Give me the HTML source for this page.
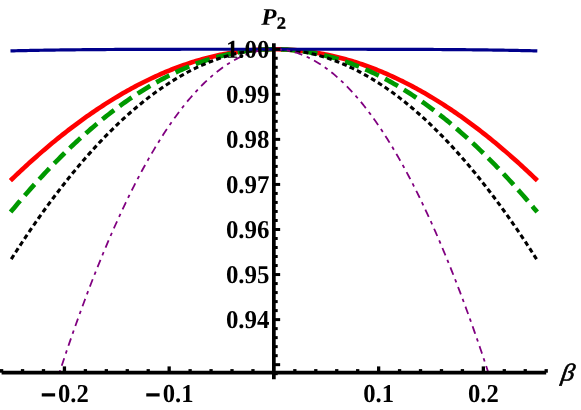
<!DOCTYPE html>
<html><head><meta charset="utf-8"><title>P2</title>
<style>html,body{margin:0;padding:0;background:#fff;}svg{display:block;}text{font-family:"Liberation Serif",serif;}</style></head><body>
<svg width="581" height="410" viewBox="0 0 581 410">
<rect width="581" height="410" fill="#fff"/>
<g fill="none" stroke-linejoin="round">
<path d="M10.41 180.58 L12.07 178.99 L14.10 177.06 L16.12 175.14 L18.14 173.23 L20.16 171.34 L22.18 169.45 L24.21 167.59 L26.23 165.73 L28.25 163.89 L30.27 162.06 L32.29 160.25 L34.31 158.45 L36.34 156.66 L38.36 154.88 L40.38 153.12 L42.40 151.38 L44.42 149.64 L46.45 147.92 L48.47 146.22 L50.49 144.52 L52.51 142.85 L54.53 141.18 L56.55 139.53 L58.58 137.89 L60.60 136.27 L62.62 134.66 L64.64 133.07 L66.66 131.49 L68.69 129.92 L70.71 128.37 L72.73 126.83 L74.75 125.31 L76.77 123.80 L78.79 122.30 L80.82 120.82 L82.84 119.36 L84.86 117.90 L86.88 116.47 L88.90 115.04 L90.93 113.63 L92.95 112.24 L94.97 110.86 L96.99 109.50 L99.01 108.15 L101.03 106.81 L103.06 105.49 L105.08 104.18 L107.10 102.89 L109.12 101.62 L111.14 100.35 L113.17 99.11 L115.19 97.87 L117.21 96.66 L119.23 95.45 L121.25 94.27 L123.27 93.09 L125.30 91.94 L127.32 90.79 L129.34 89.67 L131.36 88.55 L133.38 87.46 L135.41 86.37 L137.43 85.31 L139.45 84.26 L141.47 83.22 L143.49 82.20 L145.51 81.19 L147.54 80.20 L149.56 79.23 L151.58 78.26 L153.60 77.32 L155.62 76.39 L157.65 75.48 L159.67 74.58 L161.69 73.69 L163.71 72.82 L165.73 71.97 L167.75 71.13 L169.78 70.31 L171.80 69.51 L173.82 68.72 L175.84 67.94 L177.86 67.18 L179.89 66.44 L181.91 65.71 L183.93 65.00 L185.95 64.30 L187.97 63.62 L189.99 62.95 L192.02 62.30 L194.04 61.67 L196.06 61.05 L198.08 60.44 L200.10 59.86 L202.13 59.28 L204.15 58.73 L206.17 58.19 L208.19 57.66 L210.21 57.15 L212.23 56.66 L214.26 56.18 L216.28 55.72 L218.30 55.28 L220.32 54.85 L222.34 54.43 L224.37 54.03 L226.39 53.65 L228.41 53.29 L230.43 52.94 L232.45 52.60 L234.47 52.28 L236.50 51.98 L238.52 51.69 L240.54 51.42 L242.56 51.17 L244.58 50.93 L246.61 50.70 L248.63 50.50 L250.65 50.31 L252.67 50.13 L254.69 49.97 L256.71 49.83 L258.74 49.70 L260.76 49.59 L262.78 49.49 L264.80 49.41 L266.82 49.35 L268.85 49.30 L270.87 49.27 L272.89 49.25 L274.91 49.25 L276.93 49.27 L278.95 49.30 L280.98 49.35 L283.00 49.41 L285.02 49.49 L287.04 49.59 L289.06 49.70 L291.09 49.83 L293.11 49.97 L295.13 50.13 L297.15 50.31 L299.17 50.50 L301.19 50.70 L303.22 50.93 L305.24 51.17 L307.26 51.42 L309.28 51.69 L311.30 51.98 L313.33 52.28 L315.35 52.60 L317.37 52.94 L319.39 53.29 L321.41 53.65 L323.43 54.03 L325.46 54.43 L327.48 54.85 L329.50 55.28 L331.52 55.72 L333.54 56.18 L335.57 56.66 L337.59 57.15 L339.61 57.66 L341.63 58.19 L343.65 58.73 L345.67 59.28 L347.70 59.86 L349.72 60.44 L351.74 61.05 L353.76 61.67 L355.78 62.30 L357.81 62.95 L359.83 63.62 L361.85 64.30 L363.87 65.00 L365.89 65.71 L367.91 66.44 L369.94 67.18 L371.96 67.94 L373.98 68.72 L376.00 69.51 L378.02 70.31 L380.05 71.13 L382.07 71.97 L384.09 72.82 L386.11 73.69 L388.13 74.58 L390.15 75.48 L392.18 76.39 L394.20 77.32 L396.22 78.26 L398.24 79.23 L400.26 80.20 L402.29 81.19 L404.31 82.20 L406.33 83.22 L408.35 84.26 L410.37 85.31 L412.39 86.37 L414.42 87.46 L416.44 88.55 L418.46 89.67 L420.48 90.79 L422.50 91.94 L424.53 93.09 L426.55 94.27 L428.57 95.45 L430.59 96.66 L432.61 97.87 L434.63 99.11 L436.66 100.35 L438.68 101.62 L440.70 102.89 L442.72 104.18 L444.74 105.49 L446.77 106.81 L448.79 108.15 L450.81 109.50 L452.83 110.86 L454.85 112.24 L456.87 113.63 L458.90 115.04 L460.92 116.47 L462.94 117.90 L464.96 119.36 L466.98 120.82 L469.01 122.30 L471.03 123.80 L473.05 125.31 L475.07 126.83 L477.09 128.37 L479.11 129.92 L481.14 131.49 L483.16 133.07 L485.18 134.66 L487.20 136.27 L489.22 137.89 L491.25 139.53 L493.27 141.18 L495.29 142.85 L497.31 144.52 L499.33 146.22 L501.35 147.92 L503.38 149.64 L505.40 151.38 L507.42 153.12 L509.44 154.88 L511.46 156.66 L513.49 158.45 L515.51 160.25 L517.53 162.06 L519.55 163.89 L521.57 165.73 L523.59 167.59 L525.62 169.45 L527.64 171.34 L529.66 173.23 L531.68 175.14 L533.70 177.06 L535.72 178.99 L537.39 180.58" stroke="#ff0000" stroke-width="4.6"/>
<path d="M10.58 212.09 L12.07 210.31 L14.10 207.89 L16.12 205.49 L18.14 203.10 L20.16 200.73 L22.18 198.38 L24.21 196.05 L26.23 193.73 L28.25 191.43 L30.27 189.15 L32.29 186.89 L34.31 184.64 L36.34 182.41 L38.36 180.20 L40.38 178.00 L42.40 175.82 L44.42 173.66 L46.45 171.52 L48.47 169.39 L50.49 167.28 L52.51 165.19 L54.53 163.12 L56.55 161.07 L58.58 159.03 L60.60 157.01 L62.62 155.01 L64.64 153.03 L66.66 151.06 L68.69 149.11 L70.71 147.18 L72.73 145.27 L74.75 143.38 L76.77 141.50 L78.79 139.64 L80.82 137.80 L82.84 135.98 L84.86 134.18 L86.88 132.39 L88.90 130.63 L90.93 128.88 L92.95 127.15 L94.97 125.44 L96.99 123.74 L99.01 122.07 L101.03 120.41 L103.06 118.77 L105.08 117.15 L107.10 115.55 L109.12 113.97 L111.14 112.41 L113.17 110.86 L115.19 109.34 L117.21 107.83 L119.23 106.34 L121.25 104.87 L123.27 103.41 L125.30 101.98 L127.32 100.57 L129.34 99.17 L131.36 97.79 L133.38 96.44 L135.41 95.10 L137.43 93.78 L139.45 92.48 L141.47 91.19 L143.49 89.93 L145.51 88.69 L147.54 87.46 L149.56 86.25 L151.58 85.07 L153.60 83.90 L155.62 82.75 L157.65 81.62 L159.67 80.51 L161.69 79.42 L163.71 78.34 L165.73 77.29 L167.75 76.25 L169.78 75.24 L171.80 74.24 L173.82 73.27 L175.84 72.31 L177.86 71.37 L179.89 70.45 L181.91 69.55 L183.93 68.67 L185.95 67.81 L187.97 66.97 L189.99 66.15 L192.02 65.35 L194.04 64.56 L196.06 63.80 L198.08 63.05 L200.10 62.33 L202.13 61.62 L204.15 60.94 L206.17 60.27 L208.19 59.62 L210.21 59.00 L212.23 58.39 L214.26 57.80 L216.28 57.23 L218.30 56.68 L220.32 56.15 L222.34 55.64 L224.37 55.15 L226.39 54.68 L228.41 54.23 L230.43 53.79 L232.45 53.38 L234.47 52.99 L236.50 52.61 L238.52 52.26 L240.54 51.93 L242.56 51.61 L244.58 51.32 L246.61 51.04 L248.63 50.79 L250.65 50.55 L252.67 50.33 L254.69 50.14 L256.71 49.96 L258.74 49.80 L260.76 49.67 L262.78 49.55 L264.80 49.45 L266.82 49.37 L268.85 49.31 L270.87 49.27 L272.89 49.25 L274.91 49.25 L276.93 49.27 L278.95 49.31 L280.98 49.37 L283.00 49.45 L285.02 49.55 L287.04 49.67 L289.06 49.80 L291.09 49.96 L293.11 50.14 L295.13 50.33 L297.15 50.55 L299.17 50.79 L301.19 51.04 L303.22 51.32 L305.24 51.61 L307.26 51.93 L309.28 52.26 L311.30 52.61 L313.33 52.99 L315.35 53.38 L317.37 53.79 L319.39 54.23 L321.41 54.68 L323.43 55.15 L325.46 55.64 L327.48 56.15 L329.50 56.68 L331.52 57.23 L333.54 57.80 L335.57 58.39 L337.59 59.00 L339.61 59.62 L341.63 60.27 L343.65 60.94 L345.67 61.62 L347.70 62.33 L349.72 63.05 L351.74 63.80 L353.76 64.56 L355.78 65.35 L357.81 66.15 L359.83 66.97 L361.85 67.81 L363.87 68.67 L365.89 69.55 L367.91 70.45 L369.94 71.37 L371.96 72.31 L373.98 73.27 L376.00 74.24 L378.02 75.24 L380.05 76.25 L382.07 77.29 L384.09 78.34 L386.11 79.42 L388.13 80.51 L390.15 81.62 L392.18 82.75 L394.20 83.90 L396.22 85.07 L398.24 86.25 L400.26 87.46 L402.29 88.69 L404.31 89.93 L406.33 91.19 L408.35 92.48 L410.37 93.78 L412.39 95.10 L414.42 96.44 L416.44 97.79 L418.46 99.17 L420.48 100.57 L422.50 101.98 L424.53 103.41 L426.55 104.87 L428.57 106.34 L430.59 107.83 L432.61 109.34 L434.63 110.86 L436.66 112.41 L438.68 113.97 L440.70 115.55 L442.72 117.15 L444.74 118.77 L446.77 120.41 L448.79 122.07 L450.81 123.74 L452.83 125.44 L454.85 127.15 L456.87 128.88 L458.90 130.63 L460.92 132.39 L462.94 134.18 L464.96 135.98 L466.98 137.80 L469.01 139.64 L471.03 141.50 L473.05 143.38 L475.07 145.27 L477.09 147.18 L479.11 149.11 L481.14 151.06 L483.16 153.03 L485.18 155.01 L487.20 157.01 L489.22 159.03 L491.25 161.07 L493.27 163.12 L495.29 165.19 L497.31 167.28 L499.33 169.39 L501.35 171.52 L503.38 173.66 L505.40 175.82 L507.42 178.00 L509.44 180.20 L511.46 182.41 L513.49 184.64 L515.51 186.89 L517.53 189.15 L519.55 191.43 L521.57 193.73 L523.59 196.05 L525.62 198.38 L527.64 200.73 L529.66 203.10 L531.68 205.49 L533.70 207.89 L535.72 210.31 L537.22 212.09" stroke="#009900" stroke-width="4.65" stroke-dasharray="14.86 6.93"/>
<path d="M11.24 259.11 L12.07 257.81 L14.10 254.64 L16.12 251.51 L18.14 248.39 L20.16 245.30 L22.18 242.23 L24.21 239.18 L26.23 236.15 L28.25 233.15 L30.27 230.18 L32.29 227.22 L34.31 224.29 L36.34 221.39 L38.36 218.50 L40.38 215.64 L42.40 212.81 L44.42 209.99 L46.45 207.21 L48.47 204.44 L50.49 201.70 L52.51 198.98 L54.53 196.28 L56.55 193.61 L58.58 190.97 L60.60 188.34 L62.62 185.74 L64.64 183.17 L66.66 180.62 L68.69 178.09 L70.71 175.58 L72.73 173.10 L74.75 170.65 L76.77 168.21 L78.79 165.81 L80.82 163.42 L82.84 161.06 L84.86 158.73 L86.88 156.41 L88.90 154.13 L90.93 151.86 L92.95 149.62 L94.97 147.41 L96.99 145.22 L99.01 143.05 L101.03 140.91 L103.06 138.79 L105.08 136.69 L107.10 134.62 L109.12 132.58 L111.14 130.56 L113.17 128.56 L115.19 126.59 L117.21 124.64 L119.23 122.72 L121.25 120.82 L123.27 118.94 L125.30 117.09 L127.32 115.27 L129.34 113.47 L131.36 111.69 L133.38 109.94 L135.41 108.21 L137.43 106.51 L139.45 104.83 L141.47 103.18 L143.49 101.55 L145.51 99.95 L147.54 98.37 L149.56 96.82 L151.58 95.29 L153.60 93.78 L155.62 92.30 L157.65 90.85 L159.67 89.42 L161.69 88.01 L163.71 86.63 L165.73 85.27 L167.75 83.94 L169.78 82.64 L171.80 81.36 L173.82 80.10 L175.84 78.87 L177.86 77.66 L179.89 76.48 L181.91 75.32 L183.93 74.19 L185.95 73.09 L187.97 72.00 L189.99 70.95 L192.02 69.92 L194.04 68.91 L196.06 67.93 L198.08 66.97 L200.10 66.04 L202.13 65.13 L204.15 64.25 L206.17 63.40 L208.19 62.56 L210.21 61.76 L212.23 60.98 L214.26 60.22 L216.28 59.49 L218.30 58.79 L220.32 58.10 L222.34 57.45 L224.37 56.82 L226.39 56.21 L228.41 55.63 L230.43 55.08 L232.45 54.55 L234.47 54.05 L236.50 53.57 L238.52 53.11 L240.54 52.68 L242.56 52.28 L244.58 51.90 L246.61 51.55 L248.63 51.22 L250.65 50.92 L252.67 50.64 L254.69 50.39 L256.71 50.16 L258.74 49.96 L260.76 49.78 L262.78 49.63 L264.80 49.51 L266.82 49.40 L268.85 49.33 L270.87 49.28 L272.89 49.25 L274.91 49.25 L276.93 49.28 L278.95 49.33 L280.98 49.40 L283.00 49.51 L285.02 49.63 L287.04 49.78 L289.06 49.96 L291.09 50.16 L293.11 50.39 L295.13 50.64 L297.15 50.92 L299.17 51.22 L301.19 51.55 L303.22 51.90 L305.24 52.28 L307.26 52.68 L309.28 53.11 L311.30 53.57 L313.33 54.05 L315.35 54.55 L317.37 55.08 L319.39 55.63 L321.41 56.21 L323.43 56.82 L325.46 57.45 L327.48 58.10 L329.50 58.79 L331.52 59.49 L333.54 60.22 L335.57 60.98 L337.59 61.76 L339.61 62.56 L341.63 63.40 L343.65 64.25 L345.67 65.13 L347.70 66.04 L349.72 66.97 L351.74 67.93 L353.76 68.91 L355.78 69.92 L357.81 70.95 L359.83 72.00 L361.85 73.09 L363.87 74.19 L365.89 75.32 L367.91 76.48 L369.94 77.66 L371.96 78.87 L373.98 80.10 L376.00 81.36 L378.02 82.64 L380.05 83.94 L382.07 85.27 L384.09 86.63 L386.11 88.01 L388.13 89.42 L390.15 90.85 L392.18 92.30 L394.20 93.78 L396.22 95.29 L398.24 96.82 L400.26 98.37 L402.29 99.95 L404.31 101.55 L406.33 103.18 L408.35 104.83 L410.37 106.51 L412.39 108.21 L414.42 109.94 L416.44 111.69 L418.46 113.47 L420.48 115.27 L422.50 117.09 L424.53 118.94 L426.55 120.82 L428.57 122.72 L430.59 124.64 L432.61 126.59 L434.63 128.56 L436.66 130.56 L438.68 132.58 L440.70 134.62 L442.72 136.69 L444.74 138.79 L446.77 140.91 L448.79 143.05 L450.81 145.22 L452.83 147.41 L454.85 149.62 L456.87 151.86 L458.90 154.13 L460.92 156.41 L462.94 158.73 L464.96 161.06 L466.98 163.42 L469.01 165.81 L471.03 168.21 L473.05 170.65 L475.07 173.10 L477.09 175.58 L479.11 178.09 L481.14 180.62 L483.16 183.17 L485.18 185.74 L487.20 188.34 L489.22 190.97 L491.25 193.61 L493.27 196.28 L495.29 198.98 L497.31 201.70 L499.33 204.44 L501.35 207.21 L503.38 209.99 L505.40 212.81 L507.42 215.64 L509.44 218.50 L511.46 221.39 L513.49 224.29 L515.51 227.22 L517.53 230.18 L519.55 233.15 L521.57 236.15 L523.59 239.18 L525.62 242.23 L527.64 245.30 L529.66 248.39 L531.68 251.51 L533.70 254.64 L535.72 257.81 L536.56 259.11" stroke="#000000" stroke-width="3.1" stroke-dasharray="4.84 3.241"/>
<path d="M10.48 50.90 L12.07 50.86 L14.10 50.81 L16.12 50.76 L18.14 50.72 L20.16 50.67 L22.18 50.63 L24.21 50.58 L26.23 50.54 L28.25 50.50 L30.27 50.46 L32.29 50.42 L34.31 50.38 L36.34 50.34 L38.36 50.31 L40.38 50.27 L42.40 50.24 L44.42 50.20 L46.45 50.17 L48.47 50.14 L50.49 50.10 L52.51 50.07 L54.53 50.04 L56.55 50.02 L58.58 49.99 L60.60 49.96 L62.62 49.93 L64.64 49.91 L66.66 49.88 L68.69 49.86 L70.71 49.83 L72.73 49.81 L74.75 49.79 L76.77 49.77 L78.79 49.75 L80.82 49.73 L82.84 49.71 L84.86 49.69 L86.88 49.67 L88.90 49.65 L90.93 49.63 L92.95 49.62 L94.97 49.60 L96.99 49.59 L99.01 49.57 L101.03 49.56 L103.06 49.54 L105.08 49.53 L107.10 49.52 L109.12 49.50 L111.14 49.49 L113.17 49.48 L115.19 49.47 L117.21 49.46 L119.23 49.45 L121.25 49.44 L123.27 49.43 L125.30 49.42 L127.32 49.41 L129.34 49.40 L131.36 49.39 L133.38 49.38 L135.41 49.38 L137.43 49.37 L139.45 49.36 L141.47 49.36 L143.49 49.35 L145.51 49.34 L147.54 49.34 L149.56 49.33 L151.58 49.33 L153.60 49.32 L155.62 49.32 L157.65 49.31 L159.67 49.31 L161.69 49.30 L163.71 49.30 L165.73 49.30 L167.75 49.29 L169.78 49.29 L171.80 49.29 L173.82 49.28 L175.84 49.28 L177.86 49.28 L179.89 49.28 L181.91 49.27 L183.93 49.27 L185.95 49.27 L187.97 49.27 L189.99 49.27 L192.02 49.27 L194.04 49.26 L196.06 49.26 L198.08 49.26 L200.10 49.26 L202.13 49.26 L204.15 49.26 L206.17 49.26 L208.19 49.26 L210.21 49.26 L212.23 49.25 L214.26 49.25 L216.28 49.25 L218.30 49.25 L220.32 49.25 L222.34 49.25 L224.37 49.25 L226.39 49.25 L228.41 49.25 L230.43 49.25 L232.45 49.25 L234.47 49.25 L236.50 49.25 L238.52 49.25 L240.54 49.25 L242.56 49.25 L244.58 49.25 L246.61 49.25 L248.63 49.25 L250.65 49.25 L252.67 49.25 L254.69 49.25 L256.71 49.25 L258.74 49.25 L260.76 49.25 L262.78 49.25 L264.80 49.25 L266.82 49.25 L268.85 49.25 L270.87 49.25 L272.89 49.25 L274.91 49.25 L276.93 49.25 L278.95 49.25 L280.98 49.25 L283.00 49.25 L285.02 49.25 L287.04 49.25 L289.06 49.25 L291.09 49.25 L293.11 49.25 L295.13 49.25 L297.15 49.25 L299.17 49.25 L301.19 49.25 L303.22 49.25 L305.24 49.25 L307.26 49.25 L309.28 49.25 L311.30 49.25 L313.33 49.25 L315.35 49.25 L317.37 49.25 L319.39 49.25 L321.41 49.25 L323.43 49.25 L325.46 49.25 L327.48 49.25 L329.50 49.25 L331.52 49.25 L333.54 49.25 L335.57 49.25 L337.59 49.26 L339.61 49.26 L341.63 49.26 L343.65 49.26 L345.67 49.26 L347.70 49.26 L349.72 49.26 L351.74 49.26 L353.76 49.26 L355.78 49.27 L357.81 49.27 L359.83 49.27 L361.85 49.27 L363.87 49.27 L365.89 49.27 L367.91 49.28 L369.94 49.28 L371.96 49.28 L373.98 49.28 L376.00 49.29 L378.02 49.29 L380.05 49.29 L382.07 49.30 L384.09 49.30 L386.11 49.30 L388.13 49.31 L390.15 49.31 L392.18 49.32 L394.20 49.32 L396.22 49.33 L398.24 49.33 L400.26 49.34 L402.29 49.34 L404.31 49.35 L406.33 49.36 L408.35 49.36 L410.37 49.37 L412.39 49.38 L414.42 49.38 L416.44 49.39 L418.46 49.40 L420.48 49.41 L422.50 49.42 L424.53 49.43 L426.55 49.44 L428.57 49.45 L430.59 49.46 L432.61 49.47 L434.63 49.48 L436.66 49.49 L438.68 49.50 L440.70 49.52 L442.72 49.53 L444.74 49.54 L446.77 49.56 L448.79 49.57 L450.81 49.59 L452.83 49.60 L454.85 49.62 L456.87 49.63 L458.90 49.65 L460.92 49.67 L462.94 49.69 L464.96 49.71 L466.98 49.73 L469.01 49.75 L471.03 49.77 L473.05 49.79 L475.07 49.81 L477.09 49.83 L479.11 49.86 L481.14 49.88 L483.16 49.91 L485.18 49.93 L487.20 49.96 L489.22 49.99 L491.25 50.02 L493.27 50.04 L495.29 50.07 L497.31 50.10 L499.33 50.14 L501.35 50.17 L503.38 50.20 L505.40 50.24 L507.42 50.27 L509.44 50.31 L511.46 50.34 L513.49 50.38 L515.51 50.42 L517.53 50.46 L519.55 50.50 L521.57 50.54 L523.59 50.58 L525.62 50.63 L527.64 50.67 L529.66 50.72 L531.68 50.76 L533.70 50.81 L535.72 50.86 L537.32 50.90" stroke="#00008c" stroke-width="3.2"/>
<path d="M59.41 372.70 L61.06 367.67 L62.72 362.68 L64.37 357.73 L66.03 352.82 L67.69 347.95 L69.34 343.12 L71.00 338.33 L72.66 333.59 L74.31 328.88 L75.97 324.21 L77.62 319.59 L79.28 315.00 L80.94 310.46 L82.59 305.95 L84.25 301.49 L85.91 297.06 L87.56 292.68 L89.22 288.33 L90.88 284.03 L92.53 279.76 L94.19 275.54 L95.84 271.36 L97.50 267.21 L99.16 263.11 L100.81 259.04 L102.47 255.02 L104.13 251.03 L105.78 247.09 L107.44 243.18 L109.10 239.32 L110.75 235.49 L112.41 231.70 L114.06 227.96 L115.72 224.25 L117.38 220.58 L119.03 216.95 L120.69 213.36 L122.35 209.81 L124.00 206.31 L125.66 202.83 L127.31 199.40 L128.97 196.01 L130.63 192.66 L132.28 189.35 L133.94 186.07 L135.60 182.84 L137.25 179.64 L138.91 176.49 L140.57 173.37 L142.22 170.29 L143.88 167.25 L145.53 164.25 L147.19 161.29 L148.85 158.37 L150.50 155.49 L152.16 152.65 L153.82 149.84 L155.47 147.08 L157.13 144.35 L158.79 141.66 L160.44 139.02 L162.10 136.41 L163.75 133.83 L165.41 131.30 L167.07 128.81 L168.72 126.35 L170.38 123.94 L172.04 121.56 L173.69 119.22 L175.35 116.92 L177.00 114.66 L178.66 112.44 L180.32 110.26 L181.97 108.11 L183.63 106.01 L185.29 103.94 L186.94 101.91 L188.60 99.92 L190.26 97.97 L191.91 96.05 L193.57 94.18 L195.22 92.34 L196.88 90.54 L198.54 88.78 L200.19 87.06 L201.85 85.38 L203.51 83.74 L205.16 82.13 L206.82 80.56 L208.47 79.04 L210.13 77.54 L211.79 76.09 L213.44 74.68 L215.10 73.30 L216.76 71.97 L218.41 70.67 L220.07 69.41 L221.73 68.18 L223.38 67.00 L225.04 65.86 L226.69 64.75 L228.35 63.68 L230.01 62.65 L231.66 61.66 L233.32 60.70 L234.98 59.79 L236.63 58.91 L238.29 58.07 L239.95 57.27 L241.60 56.50 L243.26 55.78 L244.91 55.09 L246.57 54.44 L248.23 53.83 L249.88 53.26 L251.54 52.73 L253.20 52.23 L254.85 51.77 L256.51 51.35 L258.16 50.97 L259.82 50.63 L261.48 50.32 L263.13 50.06 L264.79 49.83 L266.45 49.64 L268.10 49.48 L269.76 49.37 L271.42 49.29 L273.07 49.25 L274.73 49.25 L276.38 49.29 L278.04 49.37 L279.70 49.48 L281.35 49.64 L283.01 49.83 L284.67 50.06 L286.32 50.32 L287.98 50.63 L289.64 50.97 L291.29 51.35 L292.95 51.77 L294.60 52.23 L296.26 52.73 L297.92 53.26 L299.57 53.83 L301.23 54.44 L302.89 55.09 L304.54 55.78 L306.20 56.50 L307.85 57.27 L309.51 58.07 L311.17 58.91 L312.82 59.79 L314.48 60.70 L316.14 61.66 L317.79 62.65 L319.45 63.68 L321.11 64.75 L322.76 65.86 L324.42 67.00 L326.07 68.18 L327.73 69.41 L329.39 70.67 L331.04 71.97 L332.70 73.30 L334.36 74.68 L336.01 76.09 L337.67 77.54 L339.33 79.04 L340.98 80.56 L342.64 82.13 L344.29 83.74 L345.95 85.38 L347.61 87.06 L349.26 88.78 L350.92 90.54 L352.58 92.34 L354.23 94.18 L355.89 96.05 L357.54 97.97 L359.20 99.92 L360.86 101.91 L362.51 103.94 L364.17 106.01 L365.83 108.11 L367.48 110.26 L369.14 112.44 L370.80 114.66 L372.45 116.92 L374.11 119.22 L375.76 121.56 L377.42 123.94 L379.08 126.35 L380.73 128.81 L382.39 131.30 L384.05 133.83 L385.70 136.41 L387.36 139.02 L389.01 141.66 L390.67 144.35 L392.33 147.08 L393.98 149.84 L395.64 152.65 L397.30 155.49 L398.95 158.37 L400.61 161.29 L402.27 164.25 L403.92 167.25 L405.58 170.29 L407.23 173.37 L408.89 176.49 L410.55 179.64 L412.20 182.84 L413.86 186.07 L415.52 189.35 L417.17 192.66 L418.83 196.01 L420.49 199.40 L422.14 202.83 L423.80 206.31 L425.45 209.81 L427.11 213.36 L428.77 216.95 L430.42 220.58 L432.08 224.25 L433.74 227.96 L435.39 231.70 L437.05 235.49 L438.70 239.32 L440.36 243.18 L442.02 247.09 L443.67 251.03 L445.33 255.02 L446.99 259.04 L448.64 263.11 L450.30 267.21 L451.96 271.36 L453.61 275.54 L455.27 279.76 L456.92 284.03 L458.58 288.33 L460.24 292.68 L461.89 297.06 L463.55 301.49 L465.21 305.95 L466.86 310.46 L468.52 315.00 L470.18 319.59 L471.83 324.21 L473.49 328.88 L475.14 333.59 L476.80 338.33 L478.46 343.12 L480.11 347.95 L481.77 352.82 L483.43 357.73 L485.08 362.68 L486.74 367.67 L488.39 372.70" stroke="#800080" stroke-width="1.8" stroke-dasharray="7.9 4.84 3.4 4.84" stroke-dashoffset="13.61"/>
</g>
<g stroke="#000" fill="none">
<line x1="1.60" y1="372.70" x2="546.20" y2="372.70" stroke-width="3.7"/>
<line x1="273.85" y1="43.20" x2="273.85" y2="379.20" stroke-width="3.7"/>
<line x1="1.60" y1="372.70" x2="1.60" y2="369.10" stroke-width="3.3"/>
<line x1="22.55" y1="372.70" x2="22.55" y2="369.10" stroke-width="3.3"/>
<line x1="43.49" y1="372.70" x2="43.49" y2="369.10" stroke-width="3.3"/>
<line x1="64.44" y1="372.70" x2="64.44" y2="366.40" stroke-width="3.3"/>
<line x1="85.39" y1="372.70" x2="85.39" y2="369.10" stroke-width="3.3"/>
<line x1="106.33" y1="372.70" x2="106.33" y2="369.10" stroke-width="3.3"/>
<line x1="127.28" y1="372.70" x2="127.28" y2="369.10" stroke-width="3.3"/>
<line x1="148.22" y1="372.70" x2="148.22" y2="369.10" stroke-width="3.3"/>
<line x1="169.17" y1="372.70" x2="169.17" y2="366.40" stroke-width="3.3"/>
<line x1="190.12" y1="372.70" x2="190.12" y2="369.10" stroke-width="3.3"/>
<line x1="211.06" y1="372.70" x2="211.06" y2="369.10" stroke-width="3.3"/>
<line x1="232.01" y1="372.70" x2="232.01" y2="369.10" stroke-width="3.3"/>
<line x1="252.95" y1="372.70" x2="252.95" y2="369.10" stroke-width="3.3"/>
<line x1="294.85" y1="372.70" x2="294.85" y2="369.10" stroke-width="3.3"/>
<line x1="315.79" y1="372.70" x2="315.79" y2="369.10" stroke-width="3.3"/>
<line x1="336.74" y1="372.70" x2="336.74" y2="369.10" stroke-width="3.3"/>
<line x1="357.68" y1="372.70" x2="357.68" y2="369.10" stroke-width="3.3"/>
<line x1="378.63" y1="372.70" x2="378.63" y2="366.40" stroke-width="3.3"/>
<line x1="399.58" y1="372.70" x2="399.58" y2="369.10" stroke-width="3.3"/>
<line x1="420.52" y1="372.70" x2="420.52" y2="369.10" stroke-width="3.3"/>
<line x1="441.47" y1="372.70" x2="441.47" y2="369.10" stroke-width="3.3"/>
<line x1="462.41" y1="372.70" x2="462.41" y2="369.10" stroke-width="3.3"/>
<line x1="483.36" y1="372.70" x2="483.36" y2="366.40" stroke-width="3.3"/>
<line x1="504.31" y1="372.70" x2="504.31" y2="369.10" stroke-width="3.3"/>
<line x1="525.25" y1="372.70" x2="525.25" y2="369.10" stroke-width="3.3"/>
<line x1="546.20" y1="372.70" x2="546.20" y2="369.10" stroke-width="3.3"/>
<line x1="273.85" y1="49.25" x2="280.15" y2="49.25" stroke-width="3"/>
<line x1="273.85" y1="58.26" x2="277.70" y2="58.26" stroke-width="3"/>
<line x1="273.85" y1="67.27" x2="277.70" y2="67.27" stroke-width="3"/>
<line x1="273.85" y1="76.29" x2="277.70" y2="76.29" stroke-width="3"/>
<line x1="273.85" y1="85.30" x2="277.70" y2="85.30" stroke-width="3"/>
<line x1="273.85" y1="94.31" x2="280.15" y2="94.31" stroke-width="3"/>
<line x1="273.85" y1="103.32" x2="277.70" y2="103.32" stroke-width="3"/>
<line x1="273.85" y1="112.33" x2="277.70" y2="112.33" stroke-width="3"/>
<line x1="273.85" y1="121.35" x2="277.70" y2="121.35" stroke-width="3"/>
<line x1="273.85" y1="130.36" x2="277.70" y2="130.36" stroke-width="3"/>
<line x1="273.85" y1="139.37" x2="280.15" y2="139.37" stroke-width="3"/>
<line x1="273.85" y1="148.38" x2="277.70" y2="148.38" stroke-width="3"/>
<line x1="273.85" y1="157.39" x2="277.70" y2="157.39" stroke-width="3"/>
<line x1="273.85" y1="166.41" x2="277.70" y2="166.41" stroke-width="3"/>
<line x1="273.85" y1="175.42" x2="277.70" y2="175.42" stroke-width="3"/>
<line x1="273.85" y1="184.43" x2="280.15" y2="184.43" stroke-width="3"/>
<line x1="273.85" y1="193.44" x2="277.70" y2="193.44" stroke-width="3"/>
<line x1="273.85" y1="202.45" x2="277.70" y2="202.45" stroke-width="3"/>
<line x1="273.85" y1="211.47" x2="277.70" y2="211.47" stroke-width="3"/>
<line x1="273.85" y1="220.48" x2="277.70" y2="220.48" stroke-width="3"/>
<line x1="273.85" y1="229.49" x2="280.15" y2="229.49" stroke-width="3"/>
<line x1="273.85" y1="238.50" x2="277.70" y2="238.50" stroke-width="3"/>
<line x1="273.85" y1="247.51" x2="277.70" y2="247.51" stroke-width="3"/>
<line x1="273.85" y1="256.53" x2="277.70" y2="256.53" stroke-width="3"/>
<line x1="273.85" y1="265.54" x2="277.70" y2="265.54" stroke-width="3"/>
<line x1="273.85" y1="274.55" x2="280.15" y2="274.55" stroke-width="3"/>
<line x1="273.85" y1="283.56" x2="277.70" y2="283.56" stroke-width="3"/>
<line x1="273.85" y1="292.57" x2="277.70" y2="292.57" stroke-width="3"/>
<line x1="273.85" y1="301.59" x2="277.70" y2="301.59" stroke-width="3"/>
<line x1="273.85" y1="310.60" x2="277.70" y2="310.60" stroke-width="3"/>
<line x1="273.85" y1="319.61" x2="280.15" y2="319.61" stroke-width="3"/>
<line x1="273.85" y1="328.62" x2="277.70" y2="328.62" stroke-width="3"/>
<line x1="273.85" y1="337.63" x2="277.70" y2="337.63" stroke-width="3"/>
<line x1="273.85" y1="346.65" x2="277.70" y2="346.65" stroke-width="3"/>
<line x1="273.85" y1="355.66" x2="277.70" y2="355.66" stroke-width="3"/>
<line x1="273.85" y1="364.67" x2="280.15" y2="364.67" stroke-width="3"/>
<line x1="273.85" y1="373.68" x2="277.70" y2="373.68" stroke-width="3"/>
</g>
<g style="will-change:transform" fill="#000">
<text transform="translate(225.90 57.70) rotate(0.03) scale(1.038 1.07)" font-size="24px" font-weight="bold">1.00</text>
<text transform="translate(225.90 102.76) rotate(0.03) scale(1.038 1.07)" font-size="24px" font-weight="bold">0.99</text>
<text transform="translate(225.90 147.82) rotate(0.03) scale(1.038 1.07)" font-size="24px" font-weight="bold">0.98</text>
<text transform="translate(225.90 192.88) rotate(0.03) scale(1.038 1.07)" font-size="24px" font-weight="bold">0.97</text>
<text transform="translate(225.90 237.94) rotate(0.03) scale(1.038 1.07)" font-size="24px" font-weight="bold">0.96</text>
<text transform="translate(225.90 283.00) rotate(0.03) scale(1.038 1.07)" font-size="24px" font-weight="bold">0.95</text>
<text transform="translate(225.90 328.06) rotate(0.03) scale(1.038 1.07)" font-size="24px" font-weight="bold">0.94</text>
<text transform="translate(40.14 409.90) rotate(0.03) scale(1.2 1.9)" font-size="24px" font-weight="bold">−</text>
<text transform="translate(57.94 401.95) rotate(0.03) scale(1.027 1.075)" font-size="24px" font-weight="bold">0.2</text>
<text transform="translate(144.87 409.90) rotate(0.03) scale(1.2 1.9)" font-size="24px" font-weight="bold">−</text>
<text transform="translate(162.67 401.95) rotate(0.03) scale(1.027 1.075)" font-size="24px" font-weight="bold">0.1</text>
<text transform="translate(363.23 401.95) rotate(0.03) scale(1.027 1.075)" font-size="24px" font-weight="bold">0.1</text>
<text transform="translate(467.96 401.95) rotate(0.03) scale(1.027 1.075)" font-size="24px" font-weight="bold">0.2</text>
<text transform="translate(261.30 24.85) rotate(0.03) scale(1.04 0.995)" font-size="24px" font-weight="bold" font-style="italic">P</text>
<text stroke="#000" stroke-width="0.4" transform="translate(276.75 28.80) rotate(0.03) scale(1.09 1.02)" font-size="17px" font-weight="bold">2</text>
<text transform="translate(560.40 380.50) rotate(0.03) skewX(-8) scale(1.1 1)" font-size="24px" font-style="italic" stroke="#000" stroke-width="0.6">β</text>
</g>
</svg></body></html>
